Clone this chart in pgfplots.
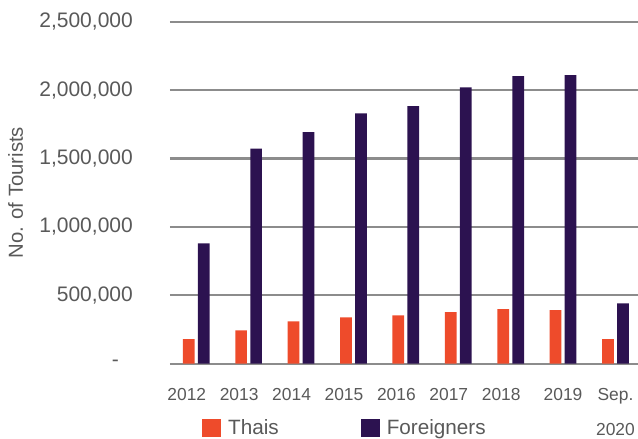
\documentclass[border=0pt]{standalone}
\usepackage{fontspec}
\setmainfont{Liberation Sans}
\usepackage{pgfplots}
\pgfplotsset{compat=1.18}
\definecolor{thai}{HTML}{EE4B2B}
\definecolor{forn}{HTML}{2C1250}
\definecolor{gridg}{HTML}{8C8C8C}
\definecolor{txt}{HTML}{595959}
\begin{document}
\begin{tikzpicture}
\path[use as bounding box] (0,0) rectangle (638pt,439pt);
\begin{axis}[
 at={(170pt,75.3pt)}, anchor=south west,
 scale only axis, width=468pt, height=342pt,
 ybar=3.3pt, bar width=11.7pt,
 xmin=-0.5, xmax=8.43, ymin=0, ymax=2500000,
 axis line style={draw=none},
 ymajorgrids, grid style={gridg, line width=2.2pt},
 major tick length=0pt,
 xtick={-0.18,0.82,1.82,2.82,3.82,4.82,5.82,7,8},
 xticklabels={2012,2013,2014,2015,2016,2017,2018,2019,{Sep.\\[13.6pt]2020}},
 xticklabel style={font=\fontsize{17.4}{20.9}\selectfont, text=txt, align=center, inner sep=0pt, anchor=north, yshift=-24.6pt},
 ytick={0,500000,1000000,1500000,2000000,2500000},
 yticklabels={{-\kern14pt},{500,000},{1,000,000},{1,500,000},{2,000,000},{2,500,000}},
 yticklabel style={font=\fontsize{21}{25}\selectfont, text=txt, inner sep=0pt, anchor=east, xshift=-37pt},
 scaled y ticks=false,
 ylabel={No. of Tourists},
 ylabel style={font=\fontsize{20.3}{24}\selectfont, text=txt, at={(axis description cs:-0.3462,0.5)}, anchor=north, inner sep=0pt},
 legend columns=2,
 legend style={at={(axis description cs:0,0)}, anchor=west, xshift=32pt, yshift=-64.3pt, draw=none, fill=none, inner sep=0pt,
   font=\fontsize{20.7}{24}\selectfont, text=txt, nodes={inner sep=0pt},
   /tikz/every odd column/.style={column sep=7pt}, /tikz/every even column/.style={column sep=82pt}},
]
\addplot[fill=thai, draw=none, legend image code/.code={\fill[thai] (0pt,-9pt) rectangle (19pt,9pt);}]
 coordinates {(0,180000) (1,244000) (2,309000) (3,339000) (4,353000) (5,377000) (6,399000) (7,392000) (8,180000)};
\addlegendentry{Thais}
\addplot[fill=forn, draw=none, legend image code/.code={\fill[forn] (0pt,-9pt) rectangle (19pt,9pt);}]
 coordinates {(0,879000) (1,1573000) (2,1693000) (3,1829000) (4,1883000) (5,2019000) (6,2102000) (7,2109000) (8,441000)};
\addlegendentry{Foreigners}
\end{axis}
\end{tikzpicture}
\end{document}
